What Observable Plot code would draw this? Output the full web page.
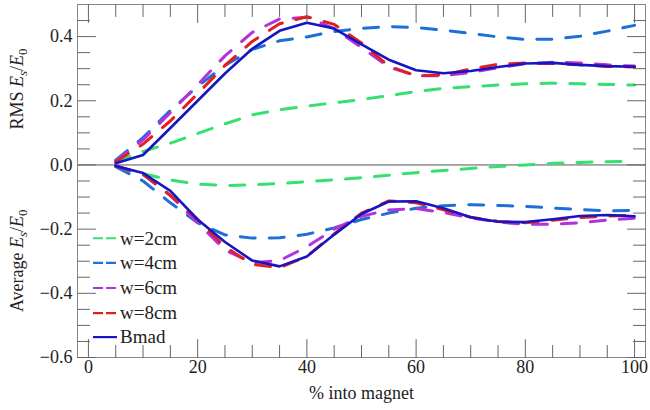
<!DOCTYPE html>
<html><head><meta charset="utf-8">
<script src="https://cdn.jsdelivr.net/npm/d3@7"></script>
<script src="https://cdn.jsdelivr.net/npm/@observablehq/plot@0.6"></script>
<style>body{margin:0;background:#fff;}</style>
</head><body><div id="chart"></div>
<script>
// ---- data ----
const pct = [5,10,15,20,25,30,35,40,45,50,55,60,65,70,75,80,85,90,95,100];
const seriesNames = ["w=2cm","w=4cm","w=6cm","w=8cm","Bmad"];
const rms2 = [0.010,0.042,0.068,0.098,0.128,0.156,0.172,0.183,0.194,0.204,0.216,0.229,0.239,0.244,0.249,0.253,0.255,0.253,0.251,0.249];
const rms4 = [0.015,0.085,0.170,0.245,0.310,0.360,0.387,0.399,0.416,0.426,0.431,0.428,0.420,0.410,0.399,0.391,0.392,0.401,0.417,0.435];
const rms6 = [0.012,0.078,0.163,0.250,0.340,0.413,0.455,0.460,0.425,0.366,0.305,0.278,0.278,0.288,0.303,0.315,0.320,0.318,0.312,0.308];
const rms8 = [0.010,0.065,0.137,0.222,0.310,0.385,0.440,0.462,0.438,0.380,0.308,0.278,0.281,0.299,0.314,0.318,0.316,0.312,0.307,0.305];
const rmsB = [0.005,0.031,0.115,0.200,0.285,0.362,0.418,0.443,0.425,0.376,0.328,0.295,0.286,0.293,0.305,0.316,0.318,0.312,0.308,0.306];
const avg2 = [-0.005,-0.027,-0.047,-0.060,-0.064,-0.062,-0.058,-0.052,-0.046,-0.040,-0.032,-0.024,-0.017,-0.011,-0.005,0.000,0.005,0.008,0.010,0.011];
const avg4 = [-0.005,-0.050,-0.118,-0.180,-0.218,-0.228,-0.227,-0.216,-0.196,-0.170,-0.150,-0.135,-0.127,-0.124,-0.126,-0.129,-0.134,-0.139,-0.143,-0.142];
const avg6 = [-0.003,-0.030,-0.095,-0.180,-0.265,-0.305,-0.298,-0.255,-0.200,-0.160,-0.140,-0.136,-0.148,-0.165,-0.178,-0.185,-0.185,-0.180,-0.172,-0.166];
const avg8 = [-0.003,-0.028,-0.095,-0.170,-0.255,-0.310,-0.320,-0.285,-0.215,-0.150,-0.112,-0.118,-0.140,-0.163,-0.176,-0.180,-0.172,-0.164,-0.159,-0.157];
const avgB = [-0.003,-0.025,-0.081,-0.170,-0.240,-0.298,-0.316,-0.285,-0.217,-0.153,-0.114,-0.113,-0.135,-0.163,-0.177,-0.178,-0.169,-0.159,-0.156,-0.160];
const xMajor = [0,20,40,60,80,100];
const xMinor = [0,5,10,15,20,25,30,35,40,45,50,55,60,65,70,75,80,85,90,95,100];
const yMajor = [-0.6,-0.4,-0.2,0.0,0.2,0.4];
const yMinor = [-0.6,-0.55,-0.5,-0.45,-0.4,-0.35,-0.3,-0.25,-0.2,-0.15,-0.1,-0.05,0,0.05,0.1,0.15,0.2,0.25,0.3,0.35,0.4,0.45];

// ---- styles ----
const FONT = '"Liberation Serif", "Times New Roman", serif';
const colors = ["#35e070","#1f6fd8","#b431de","#e3201f","#1515c4"];
const dashes = ["15,14","15,14","15,14","15,14",null];
const widths = [3,3,3,3,2.6];
const legendDash = ["10,3","10,3","10,3","10,3",null];

const rmsData = [rms2,rms4,rms6,rms8,rmsB];
const avgData = [avg2,avg4,avg6,avg8,avgB];
const rows = seriesNames.flatMap((s,i) => [
  ...pct.map((p,j) => ({series:s, kind:"rms", pct:p, value:rmsData[i][j]})),
  ...pct.map((p,j) => ({series:s, kind:"avg", pct:p, value:avgData[i][j]}))
]);

const tickShape = {draw(ctx, l){ ctx.moveTo(0,0); ctx.lineTo(0,-l); }};
const tickStyle = {stroke:"#666", strokeWidth:1, shape:tickShape, anchor:"start"};
const isMajorY = d => yMajor.some(v => Math.abs(v-d) < 1e-9);

const plot = Plot.plot({
  width:650, height:410,
  marginLeft:77, marginRight:5, marginTop:4, marginBottom:53,
  style:{fontFamily:FONT, fontSize:"18px", color:"#222", background:"#fff"},
  x:{domain:[-2,102]},
  y:{domain:[-0.6,0.5]},
  marks:[
    Plot.ruleY([0], {stroke:"#555", strokeWidth:1}),
    ...seriesNames.map((s,i) => Plot.line(rows.filter(d => d.series===s), {
      x:"pct", y:"value", z:"kind", stroke:colors[i], strokeWidth:widths[i],
      strokeDasharray:dashes[i], strokeLinejoin:"round"
    })),
    Plot.frame({stroke:"#888", strokeWidth:1}),
    Plot.vector(xMinor, {...tickStyle, x:d=>d, frameAnchor:"bottom", rotate:0, length:d => xMajor.includes(d)?6:4}),
    Plot.vector(xMinor, {...tickStyle, x:d=>d, frameAnchor:"top", rotate:180, length:d => xMajor.includes(d)?6:4}),
    Plot.vector(yMinor, {...tickStyle, y:d=>d, frameAnchor:"left", rotate:90, length:d => isMajorY(d)?6:4}),
    Plot.vector(yMinor, {...tickStyle, y:d=>d, frameAnchor:"right", rotate:-90, length:d => isMajorY(d)?6:4}),
    Plot.axisX({ticks:xMajor, tickSize:0, tickPadding:3, tickFormat:d3.format("d"), label:null, fontSize:18, fontFamily:FONT}),
    Plot.axisY({ticks:yMajor, tickSize:0, tickPadding:5, tickFormat:d3.format(".1f"), label:null, fontSize:18, fontFamily:FONT}),
    Plot.text(["% into magnet"], {frameAnchor:"bottom", dy:41, fontSize:18, fontFamily:FONT, fill:"#222"})
  ]
});
document.getElementById("chart").appendChild(plot);

// ---- y-axis titles with italic / subscripts ----
const svg = d3.select(plot);
const ys = plot.scale("y");
function yTitle(prefix, cy){
  const t = svg.append("text")
    .attr("transform", `translate(23,${cy}) rotate(-90)`)
    .attr("text-anchor","middle")
    .attr("font-family",FONT).attr("font-size",18).attr("fill","#222");
  t.append("tspan").text(prefix + " ");
  t.append("tspan").attr("font-style","italic").text("E");
  t.append("tspan").attr("font-style","italic").attr("font-size",13).attr("dy",4).text("s");
  t.append("tspan").attr("dy",-4).text("/");
  t.append("tspan").attr("font-style","italic").text("E");
  t.append("tspan").attr("font-size",13).attr("dy",4).text("0");
}
yTitle("RMS", ys.apply(0.235));
yTitle("Average", ys.apply(-0.3));

// ---- legend ----
const lg = svg.append("g");
const legendY = [-0.23,-0.307,-0.385,-0.463,-0.538];
seriesNames.forEach((s,i) => {
  const y = ys.apply(legendY[i]);
  lg.append("line").attr("x1",93).attr("x2",117).attr("y1",y).attr("y2",y)
    .attr("stroke",colors[i]).attr("stroke-width",2.2)
    .attr("stroke-dasharray",legendDash[i]);
  lg.append("text").attr("x",120).attr("y",y).attr("dy","0.33em")
    .attr("text-anchor","start")
    .attr("font-family",FONT).attr("font-size",19).attr("fill","#222").text(s);
});
</script>
</body></html>
